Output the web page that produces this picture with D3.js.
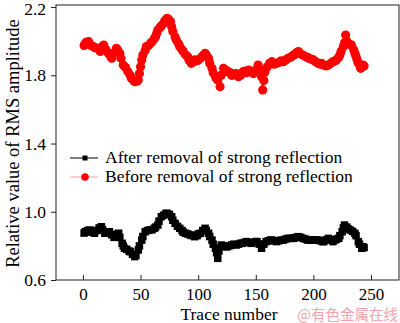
<!DOCTYPE html>
<html>
<head>
<meta charset="utf-8">
<script src="https://cdn.jsdelivr.net/npm/d3@7"></script>
<style>
  body { margin: 0; background: #fff; }
  text { font-family: "Liberation Serif", "Times New Roman", serif; }
</style>
</head>
<body>
<script>
const width = 400;
const height = 323;

// after removal of strong reflection (black squares)
const afterTrace = [1, 2, 4, 6, 8, 10, 12, 14, 16, 17, 19, 21, 23, 25, 27, 28, 30, 31, 32, 34,
  35, 36, 38, 40, 41, 43, 45, 46, 48, 49, 51, 52, 54, 56, 58, 60, 62, 63, 65, 66,
  68, 70, 72, 73, 75, 77, 78, 80, 82, 84, 86, 87, 89, 91, 93, 95, 97, 99, 100, 102,
  104, 106, 107, 109, 110, 112, 113, 115, 116, 117, 118, 120, 122, 124, 125, 127, 129, 131, 133, 135,
  137, 138, 140, 142, 144, 146, 148, 150, 151, 153, 155, 157, 159, 161, 163, 164, 166, 168, 170, 172,
  174, 176, 178, 180, 182, 183, 185, 187, 189, 191, 193, 195, 196, 198, 200, 202, 204, 206, 208, 209,
  211, 213, 215, 217, 219, 220, 222, 223, 225, 226, 227, 229, 230, 232, 234, 236, 237, 239, 240, 242,
  243, 244];
const afterValue = [0.875, 0.883, 0.89, 0.893, 0.88, 0.874, 0.89, 0.905, 0.912, 0.895, 0.874, 0.88, 0.883, 0.865, 0.85, 0.854, 0.87, 0.874, 0.85, 0.815,
  0.80, 0.786, 0.78, 0.77, 0.766, 0.75, 0.737, 0.745, 0.776, 0.80, 0.834, 0.855, 0.883, 0.89, 0.893, 0.895, 0.903, 0.91, 0.922, 0.945,
  0.971, 0.98, 0.99, 0.991, 0.985, 0.971, 0.95, 0.932, 0.915, 0.903, 0.89, 0.88, 0.874, 0.87, 0.864, 0.86, 0.854, 0.86, 0.87, 0.874,
  0.89, 0.903, 0.89, 0.874, 0.855, 0.834, 0.81, 0.786, 0.76, 0.727, 0.77, 0.805, 0.80, 0.795, 0.795, 0.80, 0.805, 0.81, 0.805, 0.81,
  0.815, 0.815, 0.82, 0.825, 0.82, 0.815, 0.82, 0.825, 0.825, 0.81, 0.786, 0.81, 0.825, 0.83, 0.834, 0.834, 0.83, 0.825, 0.83, 0.834,
  0.834, 0.84, 0.844, 0.844, 0.845, 0.844, 0.85, 0.854, 0.85, 0.844, 0.84, 0.835, 0.834, 0.835, 0.834, 0.835, 0.834, 0.83, 0.825, 0.825,
  0.835, 0.844, 0.835, 0.825, 0.835, 0.84, 0.844, 0.86, 0.883, 0.905, 0.922, 0.91, 0.90, 0.893, 0.885, 0.874, 0.86, 0.825, 0.81, 0.786,
  0.795, 0.79];

// before removal of strong reflection (red circles)
const beforeTrace = [1, 2, 3, 5, 7, 9, 11, 13, 15, 16, 18, 20, 22, 24, 25, 27, 29, 30, 32, 33,
  35, 37, 39, 41, 42, 44, 45, 47, 48, 49, 50, 51, 52, 54, 55, 57, 59, 60, 62, 63,
  64, 65, 67, 68, 70, 71, 73, 74, 76, 77, 78, 80, 81, 83, 84, 86, 87, 89, 91, 92,
  94, 95, 97, 99, 100, 102, 104, 106, 107, 109, 110, 112, 113, 115, 116, 117, 119, 120, 122, 124,
  126, 128, 129, 131, 133, 135, 137, 139, 141, 142, 144, 146, 148, 150, 152, 153, 155, 156, 157, 158,
  160, 162, 164, 166, 168, 170, 172, 174, 176, 178, 180, 182, 183, 185, 187, 189, 191, 193, 195, 196,
  198, 200, 202, 204, 206, 207, 209, 211, 213, 215, 217, 219, 220, 222, 223, 224, 226, 227, 228, 229,
  230, 232, 233, 235, 236, 237, 238, 239, 241, 242, 243, 244];
const beforeValue = [1.975, 1.987, 1.995, 1.997, 1.975, 1.968, 1.96, 1.958, 1.94, 1.965, 1.977, 1.95, 1.929, 1.91, 1.90, 1.93, 1.958, 1.95, 1.929, 1.90,
  1.86, 1.845, 1.821, 1.80, 1.782, 1.77, 1.762, 1.765, 1.772, 1.81, 1.85, 1.89, 1.919, 1.945, 1.968, 1.975, 1.99, 1.997, 2.015, 2.026,
  2.045, 2.065, 2.08, 2.09, 2.105, 2.12, 2.134, 2.13, 2.115, 2.085, 2.056, 2.025, 2.007, 1.985, 1.968, 1.95, 1.939, 1.92, 1.909, 1.89,
  1.87, 1.875, 1.89, 1.885, 1.89, 1.90, 1.915, 1.929, 1.92, 1.90, 1.87, 1.841, 1.815, 1.792, 1.78, 1.772, 1.733, 1.80, 1.841, 1.83,
  1.821, 1.815, 1.80, 1.802, 1.81, 1.792, 1.80, 1.821, 1.825, 1.815, 1.831, 1.82, 1.81, 1.83, 1.86, 1.835, 1.792, 1.714, 1.77, 1.82,
  1.85, 1.87, 1.88, 1.865, 1.87, 1.875, 1.885, 1.88, 1.89, 1.90, 1.905, 1.915, 1.919, 1.93, 1.939, 1.925, 1.919, 1.91, 1.905, 1.90,
  1.895, 1.89, 1.88, 1.87, 1.865, 1.87, 1.86, 1.855, 1.86, 1.87, 1.88, 1.885, 1.89, 1.905, 1.919, 1.94, 1.968, 1.99, 2.036, 2.0,
  1.987, 1.98, 1.977, 1.95, 1.929, 1.91, 1.89, 1.87, 1.841, 1.85, 1.86, 1.855];

const xTicks = [0, 50, 100, 150, 200, 250];
const yTicks = [0.6, 1.0, 1.4, 1.8, 2.2];
const legendLabels = ["After removal of strong reflection", "Before removal of strong reflection"];

const plotLeft = 56, plotRight = 399, plotTop = 5, plotBottom = 280;

const x = d3.scaleLinear().domain([-23.4, 274.3]).range([plotLeft, plotRight]);
const y = d3.scaleLinear().domain([0.6, 2.212]).range([plotBottom, plotTop]);

const svg = d3.select('body')
  .append('svg')
  .attr('width', width)
  .attr('height', height);

// frame
svg.append("rect")
  .attr("x", plotLeft).attr("y", plotTop)
  .attr("width", plotRight - plotLeft).attr("height", plotBottom - plotTop)
  .attr("fill", "none").attr("stroke", "#222").attr("stroke-width", 1);

// x axis, ticks pointing inward
const xAxis = svg.append("g")
  .attr("transform", "translate(0," + plotBottom + ")")
  .call(d3.axisBottom(x).tickValues(xTicks).tickSize(-5).tickPadding(8).tickFormat(d3.format("d")));
xAxis.select(".domain").remove();
xAxis.selectAll("line").attr("stroke", "#222");
xAxis.selectAll("text").style("font-size", "17px").attr("fill", "#000")
  .style("font-family", "Liberation Serif");

// y axis, ticks pointing out
const yAxis = svg.append("g")
  .attr("transform", "translate(" + plotLeft + ",0)")
  .call(d3.axisLeft(y).tickValues(yTicks).tickSize(5).tickPadding(5).tickFormat(d3.format(".1f")));
yAxis.select(".domain").remove();
yAxis.selectAll("line").attr("stroke", "#222");
yAxis.selectAll("text").style("font-size", "17.5px").attr("fill", "#000")
  .style("font-family", "Liberation Serif");
yAxis.selectAll(".tick").filter(d => d === 2.2).select("text").attr("dy", "0.42em");

// axis titles
svg.append("text")
  .attr("x", 229).attr("y", 319.5)
  .attr("text-anchor", "middle")
  .style("font-size", "17.5px")
  .text("Trace number");

svg.append("text")
  .attr("transform", "translate(19," + ((plotTop + plotBottom) / 2 + 1) + ") rotate(-90)")
  .attr("text-anchor", "middle")
  .style("font-size", "18.5px")
  .text("Relative value of RMS amplitude");

const line = d3.line().x(d => x(d[0])).y(d => y(d[1]));

const before = d3.zip(beforeTrace, beforeValue);
const after = d3.zip(afterTrace, afterValue);

// red series
svg.append("path")
  .datum(before)
  .attr("d", line)
  .attr("fill", "none").attr("stroke", "#ff0000").attr("stroke-width", 1.5);
svg.append("g").selectAll("circle")
  .data(before)
  .enter().append("circle")
  .attr("cx", d => x(d[0]))
  .attr("cy", d => y(d[1]))
  .attr("r", 4.6)
  .attr("fill", "#ff0000");

// black series
const sq = 7.5;
svg.append("path")
  .datum(after)
  .attr("d", line)
  .attr("fill", "none").attr("stroke", "#000").attr("stroke-width", 1.5);
svg.append("g").selectAll("rect")
  .data(after)
  .enter().append("rect")
  .attr("x", d => x(d[0]) - sq / 2)
  .attr("y", d => y(d[1]) - sq / 2)
  .attr("width", sq).attr("height", sq)
  .attr("fill", "#000");

// legend
const legend = svg.append("g");
const legendY = [158, 177];
legend.append("line").attr("x1", 70).attr("x2", 98).attr("y1", legendY[0]).attr("y2", legendY[0])
  .attr("stroke", "#000").attr("stroke-width", 1);
legend.append("rect").attr("x", 82.5).attr("y", legendY[0] - 2.5).attr("width", 5).attr("height", 5)
  .attr("fill", "#000");
legend.append("line").attr("x1", 70).attr("x2", 98).attr("y1", legendY[1]).attr("y2", legendY[1])
  .attr("stroke", "#f4a0a0").attr("stroke-width", 1);
legend.append("circle").attr("cx", 85).attr("cy", legendY[1]).attr("r", 3.8)
  .attr("fill", "#ff0000");
legend.selectAll("text")
  .data(legendLabels)
  .enter().append("text")
  .attr("x", 105)
  .attr("y", (d, i) => legendY[i] + 5)
  .style("font-size", "17.5px")
  .text(d => d);

// watermark
svg.append("text")
  .attr("x", 398).attr("y", 320)
  .attr("text-anchor", "end")
  .style("font-family", "Noto Sans CJK SC")
  .style("font-size", "14.5px")
  .attr("fill", "#f2a3ab")
  .text("@有色金属在线");
</script>
</body>
</html>
